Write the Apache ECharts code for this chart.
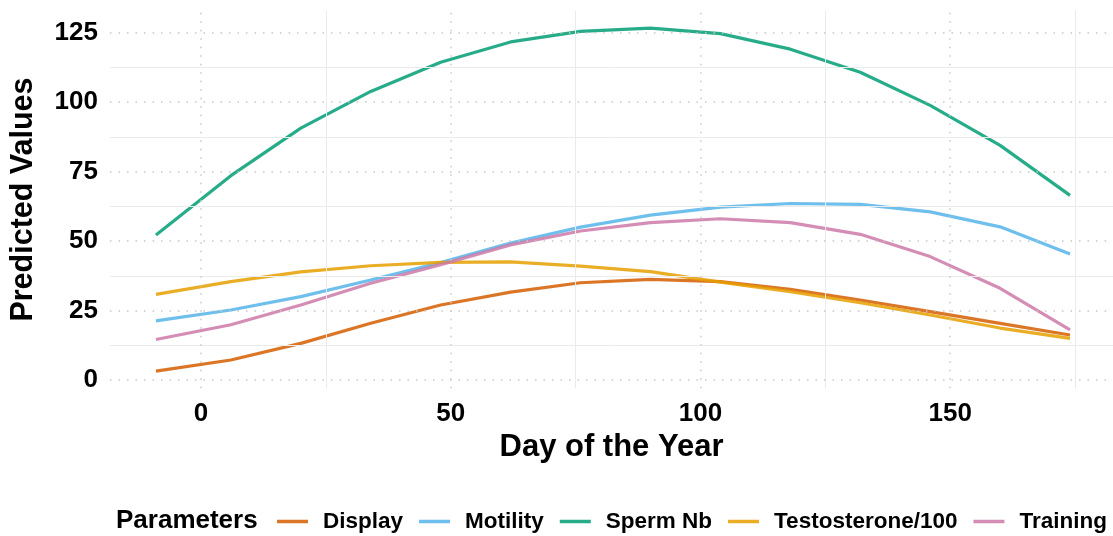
<!DOCTYPE html>
<html>
<head>
<meta charset="utf-8">
<script src="https://cdn.jsdelivr.net/npm/echarts@6/dist/echarts.min.js"></script>
<style>
  html, body { margin: 0; padding: 0; background: #ffffff; }
  #chart { width: 1113px; height: 536px; }
</style>
</head>
<body>
<div id="chart"></div>
<script>
// Sampling days (day of the year)
const days = [-9, 6, 20, 34, 48, 62, 76, 90, 104, 118, 132, 146, 160, 174];

// Predicted values per parameter
const display      = [3.2, 7.2, 13.2, 20.4, 27.0, 31.6, 35.0, 36.2, 35.4, 32.6, 28.8, 24.6, 20.4, 16.2];
const motility     = [21.3, 25.2, 30.0, 36.0, 42.3, 49.3, 55.0, 59.3, 62.2, 63.5, 63.2, 60.5, 55.1, 45.3];
const spermNb      = [52.2, 73.5, 90.6, 103.8, 114.3, 121.6, 125.4, 126.6, 124.6, 119.0, 110.7, 98.8, 84.4, 66.4];
const testosterone = [30.8, 35.4, 38.9, 41.1, 42.3, 42.5, 41.0, 39.0, 35.2, 31.8, 27.8, 23.4, 18.7, 15.0];
const training     = [14.6, 19.9, 27.0, 34.8, 41.5, 48.6, 53.6, 56.6, 58.0, 56.6, 52.4, 44.4, 33.0, 18.0];

// Series names and tick positions
const seriesNames = ['Display', 'Motility', 'Sperm Nb', 'Testosterone/100', 'Training'];
const seriesValues = [display, motility, spermNb, testosterone, training];
const seriesColors = ['#D55E00', '#56B4E9', '#009E73', '#E69F00', '#CC79A7'];
const xTicks = [0, 50, 100, 150];
const yTicks = [0, 25, 50, 75, 100, 125];
const xMinor = [25, 75, 125, 175];
const yMinor = [12.5, 37.5, 62.5, 87.5, 112.5];

const FONT = "'Liberation Sans', Arial, Helvetica, sans-serif";

const chart = echarts.init(document.getElementById('chart'), null, { renderer: 'canvas' });

const lineSeries = seriesNames.map((name, i) => ({
  name: name,
  type: 'line',
  data: days.map((d, j) => [d, seriesValues[i][j]]),
  showSymbol: false,
  symbol: 'none',
  smooth: false,
  z: 3,
  lineStyle: { color: seriesColors[i], width: 3.2, opacity: 0.85 },
  itemStyle: { color: seriesColors[i], opacity: 0.85 },
  emphasis: { disabled: true }
}));

// Panel grid: solid minor lines and dotted major lines
const minorStyle = { color: '#ebebeb', width: 1, type: 'solid' };
const majorStyle = { color: '#c8c8c8', width: 1.5, type: [1.5, 7] };
const gridLines = [];
xMinor.forEach(v => gridLines.push({ xAxis: v, lineStyle: minorStyle }));
yMinor.forEach(v => gridLines.push({ yAxis: v, lineStyle: minorStyle }));
xTicks.forEach(v => gridLines.push({ xAxis: v, lineStyle: majorStyle }));
yTicks.forEach(v => gridLines.push({ yAxis: v, lineStyle: majorStyle }));

const gridSeries = {
  name: '__grid',
  type: 'line',
  data: [],
  z: 1,
  silent: true,
  markLine: {
    silent: true,
    symbol: ['none', 'none'],
    label: { show: false },
    animation: false,
    data: gridLines
  }
};

chart.setOption({
  animation: false,
  backgroundColor: '#ffffff',
  textStyle: { fontFamily: FONT },
  title: {
    text: 'Parameters',
    left: 116,
    top: 508,
    padding: 0,
    textStyle: { fontFamily: FONT, fontSize: 26, fontWeight: 'bold', color: '#000000' }
  },
  legend: {
    data: seriesNames,
    left: 277,
    top: 510,
    padding: 0,
    icon: 'rect',
    itemWidth: 31,
    itemHeight: 3.5,
    itemGap: 16,
    selectedMode: false,
    textStyle: {
      fontFamily: FONT, fontSize: 22.5, fontWeight: 'bold', color: '#000000',
      padding: [0, 0, 0, 10]
    }
  },
  grid: { left: 109, right: 0, top: 10.8, bottom: 147.7, containLabel: false },
  xAxis: {
    type: 'value',
    min: -18.2,
    max: 182.6,
    name: 'Day of the Year',
    nameLocation: 'middle',
    nameGap: 40,
    nameTextStyle: { fontFamily: FONT, fontSize: 31, fontWeight: 'bold', color: '#000000' },
    axisLine: { show: false },
    axisTick: { show: false },
    splitLine: { show: false },
    axisLabel: {
      customValues: xTicks,
      margin: 13,
      fontFamily: FONT, fontSize: 26, fontWeight: 'bold', color: '#000000'
    }
  },
  yAxis: {
    type: 'value',
    min: -2.97,
    max: 132.8,
    name: 'Predicted Values',
    nameLocation: 'middle',
    nameGap: 71,
    nameTextStyle: { fontFamily: FONT, fontSize: 30.5, fontWeight: 'bold', color: '#000000' },
    axisLine: { show: false },
    axisTick: { show: false },
    splitLine: { show: false },
    axisLabel: {
      customValues: yTicks,
      margin: 12,
      fontFamily: FONT, fontSize: 26, fontWeight: 'bold', color: '#000000'
    }
  },
  series: [gridSeries].concat(lineSeries)
});
</script>
</body>
</html>
